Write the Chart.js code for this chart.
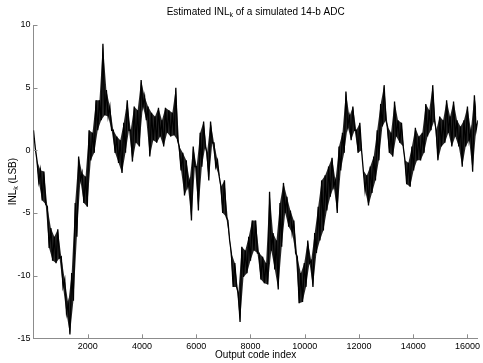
<!DOCTYPE html>
<html>
<head>
<meta charset="utf-8">
<script src="https://cdn.jsdelivr.net/npm/chart.js@4.4.1/dist/chart.umd.min.js"></script>
<style>
html, body { margin: 0; padding: 0; background: #fff; }
#wrap { width: 483px; height: 363px; }
</style>
</head>
<body>
<div id="wrap"><canvas id="inlChart"></canvas></div>
<script>
// INL estimate, read off the plot as upper / lower edge of the trace every 128 codes
const codeStep = 128;
const inlUpper = [
  1.6, -0.8, -1.6, -1.7, -4.5, -6.2, -6.9, -6.3, -8.5, -10.3, -12.2, -9.8, -4.2, -0.5, -1.8, -2.1,
  1.6, 1.4, 4.0, 4.0, 8.5, 4.8, 3.5, 1.6, 1.1, 0.8, 2.2, 4.0, 1.6, 3.5, 3.2, 5.6,
  4.3, 3.5, 3.0, 2.7, 3.4, 2.4, 3.4, 3.2, 3.0, 5.0, 0.3, -0.2, -0.8, -2.4, 0.3, -1.3,
  1.4, 2.3, -0.2, 2.3, 0.6, -0.8, -2.9, -2.4, -5.6, -8.2, -9.0, -11.4, -7.7, -8.0, -6.9, -5.6,
  -5.6, -8.2, -8.5, -9.0, -3.3, -6.6, -7.2, -4.2, -2.6, -3.7, -4.8, -5.6, -8.5, -9.8, -9.0, -7.2,
  -8.8, -6.6, -4.5, -2.4, -2.0, -1.3, -0.6, -2.4, 0.3, 1.4, 4.7, 2.7, 3.5, 1.6, 2.2, -1.6,
  -2.0, -1.3, -0.5, 1.6, 3.7, 5.2, 1.9, 1.4, 3.9, 2.4, 2.2, -0.8, -1.0, 0.3, 1.8, 1.1,
  1.4, 3.7, 3.2, 5.2, 1.6, 2.7, 2.4, 4.0, 2.7, 3.9, 2.4, 1.9, 2.4, 3.5, 1.6, 4.4,
  2.4
];
const inlLower = [
  0.2, -2.5, -4.0, -4.3, -7.8, -8.8, -9.0, -8.6, -10.9, -13.0, -14.7, -12.0, -6.9, -2.4, -4.2, -4.5,
  -0.8, -0.2, 1.6, 2.4, 2.8, 2.7, 1.6, -0.2, -1.0, -1.8, -0.2, 1.6, -0.9, 0.6, 0.3, 3.5,
  2.4, -0.5, 0.8, 0.6, 1.1, 0.3, 1.4, 1.1, 1.2, 0.8, -1.6, -3.6, -2.9, -5.6, -1.3, -4.8,
  -1.3, 0.3, -2.4, 0.6, -1.3, -2.1, -5.0, -5.3, -7.2, -10.9, -10.9, -13.7, -10.1, -9.8, -8.8, -8.0,
  -8.2, -10.3, -10.6, -10.7, -8.0, -9.5, -11.1, -7.7, -5.0, -6.1, -6.6, -8.2, -12.2, -12.1, -10.9, -9.0,
  -10.9, -8.2, -7.2, -6.4, -4.8, -3.7, -2.9, -5.0, -1.6, -0.2, 1.9, 0.8, 1.6, -0.2, 0.0, -3.2,
  -4.4, -3.4, -2.4, -0.8, 1.9, 2.4, -0.2, -0.5, 1.1, 0.6, 0.3, -2.7, -2.9, -1.6, -0.8, -0.8,
  -0.2, 1.1, 1.6, 2.4, -0.8, 0.3, 0.6, 1.4, 0.3, 1.1, 0.3, -1.3, 0.3, 0.8, -1.7, 1.6,
  0.0
];
const xTicks = [2000, 4000, 6000, 8000, 10000, 12000, 14000, 16000];
const yTicks = [-15, -10, -5, 0, 5, 10];
const xMax = 16384;

const axisColor = '#8c8c8c';
const fontFamily = '"Liberation Sans", Arial, Helvetica, sans-serif';

// upper edge points at k*step, lower edge points half a step later
const upperPts = inlUpper.map((v, k) => ({ x: k * codeStep, y: v }));
const lowerPts = inlLower.map((v, k) => ({ x: k * codeStep + codeStep / 2, y: v })).filter(p => p.x <= xMax);
// trace goes top edge -> bottom edge -> next top edge ...
const trace = [];
upperPts.forEach((p, k) => {
  trace.push(p);
  if (lowerPts[k]) trace.push(lowerPts[k]);
});

// draws text where parts flagged true are subscripts
function drawSubText(ctx, parts, cx, cy, size) {
  const sub = Math.round(size * 0.72);
  let total = 0;
  parts.forEach(([t, s]) => {
    ctx.font = (s ? sub : size) + 'px ' + fontFamily;
    total += ctx.measureText(t).width;
  });
  let x = cx - total / 2;
  ctx.textAlign = 'left';
  ctx.textBaseline = 'middle';
  parts.forEach(([t, s]) => {
    ctx.font = (s ? sub : size) + 'px ' + fontFamily;
    ctx.fillText(t, x, s ? cy + size * 0.35 : cy);
    x += ctx.measureText(t).width;
  });
}

const decorations = {
  id: 'decorations',
  afterDraw(chart) {
    const { ctx, chartArea, scales: { x, y } } = chart;
    ctx.save();
    // inward tick marks
    ctx.strokeStyle = axisColor;
    ctx.lineWidth = 1;
    ctx.beginPath();
    x.ticks.forEach(t => {
      const px = Math.round(x.getPixelForValue(t.value)) + 0.5;
      ctx.moveTo(px, chartArea.bottom);
      ctx.lineTo(px, chartArea.bottom - 4);
    });
    y.ticks.forEach(t => {
      const py = Math.round(y.getPixelForValue(t.value)) + 0.5;
      ctx.moveTo(chartArea.left, py);
      ctx.lineTo(chartArea.left + 4, py);
    });
    ctx.stroke();

    ctx.fillStyle = '#000';
    const mid = (chartArea.left + chartArea.right) / 2;
    drawSubText(ctx, [['Estimated INL', false], ['k', true], [' of a simulated 14-b ADC', false]], mid, 12, 10);
    drawSubText(ctx, [['Output code index', false]], mid, 355, 10);
    ctx.translate(13, (chartArea.top + chartArea.bottom) / 2);
    ctx.rotate(-Math.PI / 2);
    drawSubText(ctx, [['INL', false], ['k', true], [' (LSB)', false]], 0, 0, 10);
    ctx.restore();
  }
};

const ctx = document.getElementById('inlChart').getContext('2d');
const inlChart = new Chart(ctx, {
  type: 'line',
  data: {
    datasets: [
      {
        data: upperPts,
        borderWidth: 0,
        borderColor: 'rgba(0,0,0,0)',
        backgroundColor: 'rgba(0,0,0,0.85)',
        pointRadius: 0,
        fill: '+1'
      },
      {
        data: lowerPts,
        borderWidth: 0,
        borderColor: 'rgba(0,0,0,0)',
        pointRadius: 0,
        fill: false
      },
      {
        data: trace,
        borderColor: '#000',
        borderWidth: 1.3,
        pointRadius: 0,
        tension: 0,
        fill: false
      }
    ]
  },
  options: {
    responsive: true,
    maintainAspectRatio: false,
    animation: false,
    devicePixelRatio: 1,
    layout: { padding: { top: 25, right: 2, left: 0, bottom: 0 } },
    plugins: {
      legend: { display: false },
      tooltip: { enabled: false }
    },
    scales: {
      x: {
        type: 'linear',
        min: 0,
        max: xMax,
        afterBuildTicks: s => { s.ticks = xTicks.map(v => ({ value: v })); },
        afterFit: s => { s.height = 24.7; },
        grid: { display: true, drawOnChartArea: false, drawTicks: false },
        border: { display: true, color: axisColor },
        ticks: { color: '#000', padding: 3, maxRotation: 0, autoSkip: false, callback: v => String(v), font: { family: fontFamily, size: 9 } }
      },
      y: {
        min: -15,
        max: 10,
        afterBuildTicks: s => { s.ticks = yTicks.map(v => ({ value: v })); },
        afterFit: s => { s.width = 33.5; },
        grid: { display: true, drawOnChartArea: false, drawTicks: false },
        border: { display: true, color: axisColor },
        ticks: { color: '#000', padding: 3, callback: v => String(v), font: { family: fontFamily, size: 9 } }
      }
    }
  },
  plugins: [decorations]
});
</script>
</body>
</html>
